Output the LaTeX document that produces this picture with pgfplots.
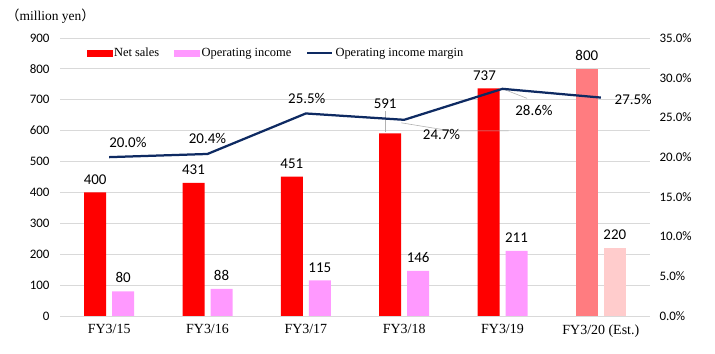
\documentclass[border=0pt]{standalone}
\usepackage{pgfplots}
\pgfplotsset{compat=1.18}
\usepackage{fontspec}
\setmainfont{Liberation Serif}
\newfontfamily\calfont{Carlito}
\newfontfamily\cjk{Noto Sans CJK JP}
\definecolor{netred}{HTML}{FF0000}
\definecolor{oppink}{HTML}{FF99FF}
\definecolor{estred}{HTML}{FF7C80}
\definecolor{estpink}{HTML}{FFCCCC}
\definecolor{navy}{HTML}{0E2A62}
\definecolor{gridgray}{HTML}{D9D9D9}
\begin{document}
\begin{tikzpicture}
\useasboundingbox (0,0) rectangle (715bp,354bp);
\node[anchor=west, font=\fontsize{13.5}{15}\selectfont, inner sep=0pt] at (6bp,338bp) {{\cjk （}million yen{\cjk ）}};
\begin{axis}[
  at={(60bp,38bp)}, anchor=south west, scale only axis,
  width=590bp, height=278bp,
  xmin=-0.5, xmax=5.5, ymin=0, ymax=900,
  ytick={0,100,...,900},
  xtick={0,1,2,3,4,5},
  xticklabels={FY3/15,FY3/16,FY3/17,FY3/18,FY3/19,FY3/20 (Est.)},
  x tick label style={font=\fontsize{14}{16}\selectfont, yshift=-5bp},
  y tick label style={font=\calfont\fontsize{13}{15}\selectfont, xshift=-7bp},
  /pgf/number format/assume math mode=true,
  ymajorgrids, grid style={draw=gridgray, line width=0.9pt},
  axis line style={draw=none}, major tick length=0pt,
  legend style={at={(0.366,0.946)}, anchor=center, draw=none, fill=none,
    legend columns=3, font=\fontsize{12.5}{14}\selectfont,
    /tikz/every even column/.append style={column sep=13bp},
    inner sep=0pt},
]
\addlegendimage{legend image code/.code={\fill[netred] (0bp,-3bp) rectangle (25bp,3bp);}}
\addlegendentry{Net sales}
\addlegendimage{legend image code/.code={\fill[oppink] (0bp,-3bp) rectangle (25bp,3bp);}}
\addlegendentry{Operating income}
\addlegendimage{legend image code/.code={\draw[navy, line width=2.25bp] (0bp,0bp) -- (25bp,0bp);}}
\addlegendentry{Operating income margin}
% Net sales
\addplot[forget plot, ybar, bar width=22bp, bar shift=-14bp, fill=netred, draw=none]
  coordinates {(0,400) (1,431) (2,451) (3,591) (4,737)};
\addplot[forget plot, ybar, bar width=22bp, bar shift=-14bp, fill=estred, draw=none]
  coordinates {(5,800)};
% Operating income
\addplot[forget plot, ybar, bar width=22bp, bar shift=14bp, fill=oppink, draw=none]
  coordinates {(0,80) (1,88) (2,115) (3,146) (4,211)};
\addplot[forget plot, ybar, bar width=22bp, bar shift=14bp, fill=estpink, draw=none]
  coordinates {(5,220)};
\begin{scope}[every node/.style={font=\calfont\fontsize{15}{17}\selectfont, anchor=south, inner sep=0pt, yshift=8bp}]
\node[xshift=-14bp] at (axis cs:0,400) {400};
\node[xshift=-14bp] at (axis cs:1,431) {431};
\node[xshift=-14bp] at (axis cs:2,451) {451};
\node[xshift=-19bp, yshift=17bp] at (axis cs:3,591) {591};
\node[xshift=-18bp] at (axis cs:4,737) {737};
\node[xshift=-14bp] at (axis cs:5,800) {800};
\node[xshift=14bp] at (axis cs:0,80) {80};
\node[xshift=14bp] at (axis cs:1,88) {88};
\node[xshift=14bp] at (axis cs:2,115) {115};
\node[xshift=14bp] at (axis cs:3,146) {146};
\node[xshift=14bp] at (axis cs:4,211) {211};
\node[xshift=14bp] at (axis cs:5,220) {220};
\end{scope}
\draw[gray!60, line width=0.6bp] ([xshift=-19bp,yshift=1bp]axis cs:3,591) -- ([xshift=-19bp,yshift=22bp]axis cs:3,591);
\end{axis}
\begin{axis}[
  at={(60bp,38bp)}, anchor=south west, scale only axis,
  width=590bp, height=278bp,
  xmin=-0.5, xmax=5.5, ymin=0, ymax=35,
  ytick={0,5,...,35},
  yticklabel={\pgfmathprintnumber[fixed,fixed zerofill,precision=1]{\tick}\%},
  yticklabel pos=right,
  xtick=\empty,
  y tick label style={font=\calfont\fontsize{13}{15}\selectfont, anchor=west, xshift=6bp},
  /pgf/number format/assume math mode=true,
  axis line style={draw=none}, major tick length=0pt,
]
\draw[gray!60, line width=0.6bp] (axis cs:4.0,28.6) -- (axis cs:4.25,27.4);
\draw[gray!60, line width=0.6bp] ([xshift=-3bp,yshift=-3bp]axis cs:3,24.7) -- ++(0,-8bp) -- ++(9bp,0);
\addplot[navy, line width=2.25bp, mark=none] coordinates {(0,20.0) (1,20.4) (2,25.5) (3,24.7) (4,28.6) (5,27.5)};
\begin{scope}[every node/.style={font=\calfont\fontsize{15}{17}\selectfont}]
\node at (axis cs:0.19,21.8) {20.0\%};
\node at (axis cs:1.0,22.3) {20.4\%};
\node at (axis cs:2.01,27.4) {25.5\%};
\node at (axis cs:3.38,22.8) {24.7\%};
\node at (axis cs:4.32,25.9) {28.6\%};
\node at (axis cs:5.33,27.2) {27.5\%};
\end{scope}
\end{axis}
\end{tikzpicture}
\end{document}
